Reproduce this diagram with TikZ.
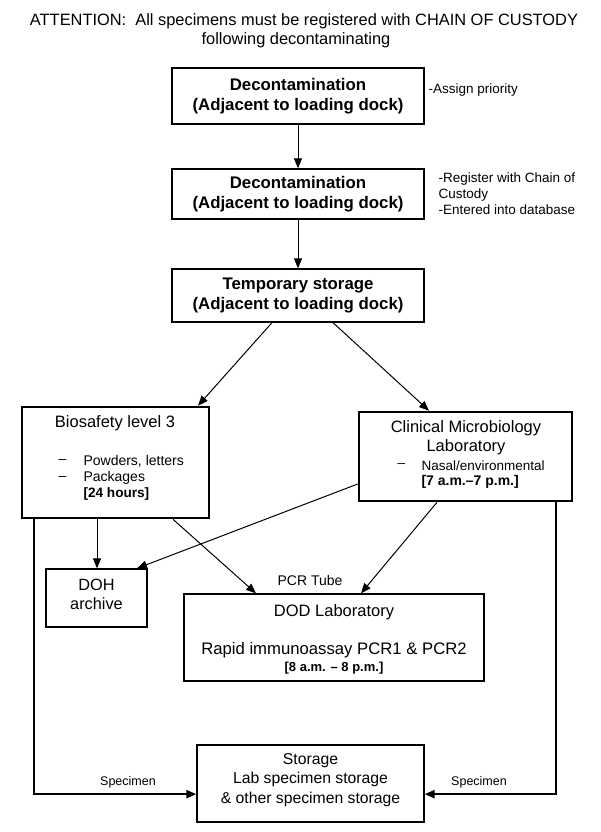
\documentclass[tikz,border=0pt]{standalone}
\usepackage{fontspec}
\setmainfont{Liberation Sans}
\usetikzlibrary{arrows.meta,calc}
\begin{document}
\begin{tikzpicture}[x=1pt,y=-1pt,
  box/.style={draw, line width=1.3pt, inner sep=0pt},
  heavybox/.style={draw, line width=2.6pt, inner sep=0pt},
  conn/.style={line width=1pt, -{Triangle[length=10pt,width=8pt]}},
  heavyconn/.style={line width=2.4pt, -{Triangle[length=10pt,width=8pt]}},
  ttl/.style={font=\fontsize{16.4}{20}\selectfont},
  bold/.style={font=\bfseries\fontsize{16.8}{20}\selectfont, align=center},
  note/.style={font=\fontsize{13.5}{16}\selectfont, align=left, anchor=west},
  reg/.style={font=\fontsize{16.5}{19}\selectfont, align=center},
  item/.style={font=\fontsize{14}{18}\selectfont, anchor=west},
  small/.style={font=\fontsize{12.5}{14}\selectfont}
]
\useasboundingbox (0,0) rectangle (600,832);
\fill[white] (0,0) rectangle (600,832);

% title
\node[ttl] (t1) at (304,21) {ATTENTION:\ \ All specimens must be registered with CHAIN OF CUSTODY};
\node[ttl] (t2) at (296,40) {following decontaminating};

% top chain
\node[box, bold, minimum width=252pt, minimum height=56pt] (b1) at (298,96) {Decontamination\\(Adjacent to loading dock)};
\node[box, bold, minimum width=252pt, minimum height=50pt] (b2) at (298,194) {Decontamination\\(Adjacent to loading dock)};
\node[box, bold, minimum width=252pt, minimum height=53pt] (b3) at (298,295.5) {Temporary storage\\(Adjacent to loading dock)};

\node[note] (n1) at (425,90) {-Assign priority};
\node[note] (n2) at (435,194) {-Register with Chain of\\Custody\\-Entered into database};

% BSL3
\node[heavybox, minimum width=187pt, minimum height=111pt] (bsl) at (115.5,462.5) {};
\node[reg] (bslt) at (115,423) {Biosafety level 3};
\node[item] (bd1) at (55,461) {--};
\node[item] (bi1) at (80,461) {Powders, letters};
\node[item] (bd2) at (55,478) {--};
\node[item] (bi2) at (80,478) {Packages};
\node[item, font=\bfseries\fontsize{13.6}{18}\selectfont] (bi3) at (80,494) {[24 hours]};

% Clinical
\node[heavybox, minimum width=213pt, minimum height=89pt] (cml) at (465.5,456.5) {};
\node[reg] (cmlt) at (466,437.5) {Clinical Microbiology\\Laboratory};
\node[item, font=\fontsize{13.5}{18}\selectfont] (cd1) at (394,466) {--};
\node[item, font=\fontsize{13.5}{18}\selectfont] (ci1) at (418,466) {Nasal/environmental};
\node[item, font=\bfseries\fontsize{14}{18}\selectfont] (ci2) at (418,482) {[7 a.m.--7 p.m.]};

% DOH
\node[box, minimum width=101pt, minimum height=58pt] (doh) at (96.5,598) {};
\node[reg, font=\fontsize{16.3}{19}\selectfont] (doht) at (96.5,594) {DOH\\archive};

% DOD
\node[box, minimum width=300pt, minimum height=87pt] (dod) at (334,637.5) {};
\node[reg] (dodt) at (334,612) {DOD Laboratory};
\node[reg, font=\fontsize{16.7}{19}\selectfont] (dodr) at (334,650) {Rapid immunoassay PCR1 \& PCR2};
\node[font=\bfseries\fontsize{13}{15}\selectfont] (dodh) at (334,668) {[8 a.m. -- 8 p.m.]};
\node[font=\fontsize{14}{15}\selectfont] (pcr) at (310,580) {PCR Tube};

% Storage
\node[box, minimum width=227pt, minimum height=77pt] (sto) at (310.5,783.5) {};
\node[font=\fontsize{15.75}{19.5}\selectfont, align=center] (stot) at (310.5,780) {Storage\\Lab specimen storage\\\& other specimen storage};

% connectors
\draw[conn] (b1) -- (b2);
\draw[conn] (b2) -- (b3);
\draw[conn] (b3.south -| 272,0) -- (bsl.north -| 198,0);
\draw[conn] (b3.south -| 333,0) -- (cml.north -| 429,0);
\draw[conn] (bsl.south -| 97,0) -- (doh.north -| 97,0);
\draw[conn] (bsl.south -| 173,0) -- (dod.north -| 256,0);
\draw[conn] (cml.west |- 0,484) -- (doh.north -| 137,0);
\draw[conn] (cml.south -| 437,0) -- (dod.north -| 361,0);

\coordinate (sl) at ($(sto.north west)!0.636!(sto.south west)$);
\coordinate (sr) at ($(sto.north east)!0.636!(sto.south east)$);
\draw[heavyconn] (bsl.south -| 34,0) |- (sl);
\draw[heavyconn] (cml.south -| 556,0) |- (sr);
\node[small] (sp1) at (128,782) {Specimen};
\node[small] (sp2) at (479,782) {Specimen};
\end{tikzpicture}
\end{document}
